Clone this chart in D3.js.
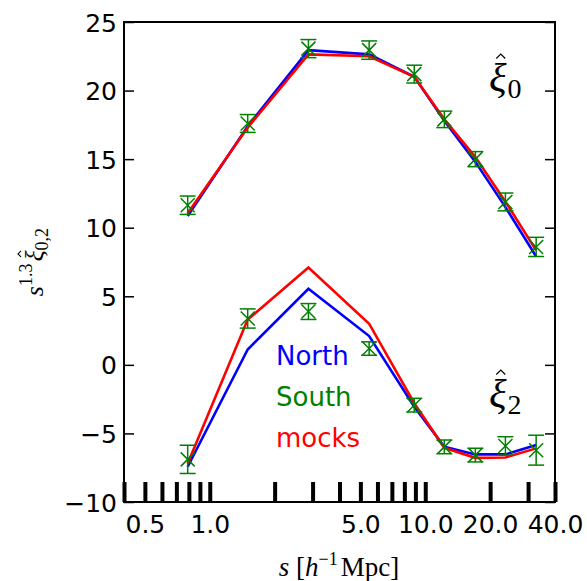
<!DOCTYPE html>
<html>
<head>
<meta charset="utf-8">
<script src="https://cdn.jsdelivr.net/npm/d3@7"></script>
<style>
  body { margin: 0; background: #fff; }
  svg { display: block; }
  .tick text { font-family: "DejaVu Sans", sans-serif; font-size: 25px; fill: #000; }
</style>
</head>
<body>
<svg class="chart" width="587" height="581"></svg>
<script>
// separation bins (h^-1 Mpc)
var sBins = [0.79, 1.50, 2.87, 5.49, 8.89, 12.26, 17.08, 23.55, 32.7];

// monopole, s^1.3 xi_0
var northXi0 = [10.85, 17.4, 22.95, 22.64, 21.0, 17.8, 14.8, 11.5, 7.9];
var mocksXi0 = [11.05, 17.3, 22.64, 22.5, 21.0, 17.9, 15.15, 11.9, 8.35];
var southXi0 = [11.64, 17.6, 23.06, 22.95, 21.2, 17.9, 15.0, 11.88, 8.6];
var southXi0Err = [0.67, 0.65, 0.66, 0.67, 0.65, 0.6, 0.55, 0.65, 0.7];

// quadrupole, s^1.3 xi_2
var northXi2 = [-7.43, 1.12, 5.55, 2.1, -3.06, -5.98, -6.53, -6.53, -5.85];
var mocksXi2 = [-7.19, 3.3, 7.1, 3.0, -2.8, -6.05, -6.78, -6.75, -6.09];
var southXi2 = [-6.89, 3.38, 3.89, 1.19, -2.94, -5.98, -6.58, -5.91, -6.22];
var southXi2Err = [1.03, 0.7, 0.58, 0.49, 0.5, 0.5, 0.5, 0.67, 1.09];

// axis ticks
var xTicks = [0.4, 0.5, 0.6, 0.7, 0.8, 0.9, 1, 2, 3, 4, 5, 6, 7, 8, 9, 10, 20, 30, 40];
var xTickLabels = [0.5, 1, 5, 10, 20, 40];
var yTicks = [-10, -5, 0, 5, 10, 15, 20, 25];

var legendNames = ["North", "South", "mocks"];
var legendColors = ["blue", "green", "red"];

var margin = {top: 22, right: 32, bottom: 79, left: 124};
var svg = d3.select(".chart");
var W = +svg.attr("width"), H = +svg.attr("height");
var w = W - margin.left - margin.right;
var h = H - margin.top - margin.bottom;

var xScale = d3.scaleLog().domain([0.4, 40]).range([0, w]);
var yScale = d3.scaleLinear().domain([-10, 25]).range([h, 0]);

var g = svg.append("g").attr("transform", "translate(" + margin.left + "," + margin.top + ")");

// x axis - thick inward ticks
var xAxis = d3.axisBottom(xScale)
    .tickValues(xTicks)
    .tickSize(-20)
    .tickPadding(13)
    .tickFormat(function(d) { return xTickLabels.indexOf(d) >= 0 ? d3.format(".1f")(d) : ""; });
var gx = g.append("g").attr("transform", "translate(0," + h + ")").call(xAxis);
gx.select(".domain").remove();
gx.selectAll(".tick line").attr("stroke", "#000").attr("stroke-width", 4);

// y axes, left with labels, right mirrored
var gy = g.append("g").call(d3.axisLeft(yScale).tickValues(yTicks).tickSize(-10).tickPadding(7));
gy.select(".domain").remove();
gy.selectAll(".tick line").attr("stroke", "#000").attr("stroke-width", 1.5);
gy.selectAll(".tick text").attr("dy", "0.36em");

var gy2 = g.append("g").attr("transform", "translate(" + w + ",0)")
    .call(d3.axisRight(yScale).tickValues(yTicks).tickSize(-10).tickFormat(""));
gy2.select(".domain").remove();
gy2.selectAll(".tick line").attr("stroke", "#000").attr("stroke-width", 1.5);

// frame
g.append("rect").attr("x", 0).attr("y", 0).attr("width", w).attr("height", h)
    .attr("fill", "none").attr("stroke", "#000").attr("stroke-width", 2);

var line = d3.line()
    .x(function(d) { return xScale(d[0]); })
    .y(function(d) { return yScale(d[1]); });

function drawLine(vals, color) {
    g.append("path")
        .datum(d3.zip(sBins, vals))
        .attr("d", line)
        .attr("fill", "none")
        .attr("stroke", color)
        .attr("stroke-width", 2.6)
        .attr("stroke-linejoin", "miter");
}

drawLine(northXi0, "blue");
drawLine(northXi2, "blue");
drawLine(mocksXi0, "red");
drawLine(mocksXi2, "red");

function drawErr(vals, errs) {
    var data = d3.zip(sBins, vals, errs);
    var eg = g.append("g").attr("stroke", "green").attr("stroke-width", 1.5).attr("fill", "none");
    var pts = eg.selectAll("g").data(data).enter().append("g")
        .attr("transform", function(d) { return "translate(" + xScale(d[0]) + ",0)"; });
    pts.append("line").attr("x1", 0).attr("x2", 0)
        .attr("y1", function(d) { return yScale(d[1] - d[2]); })
        .attr("y2", function(d) { return yScale(d[1] + d[2]); });
    pts.append("line").attr("x1", -8).attr("x2", 8)
        .attr("y1", function(d) { return yScale(d[1] - d[2]); })
        .attr("y2", function(d) { return yScale(d[1] - d[2]); });
    pts.append("line").attr("x1", -8).attr("x2", 8)
        .attr("y1", function(d) { return yScale(d[1] + d[2]); })
        .attr("y2", function(d) { return yScale(d[1] + d[2]); });
    // x marker
    pts.append("path").attr("d", function(d) {
        var cy = yScale(d[1]);
        return "M-7," + (cy - 7) + "L7," + (cy + 7) + "M-7," + (cy + 7) + "L7," + (cy - 7);
    });
}

drawErr(southXi0, southXi0Err);
drawErr(southXi2, southXi2Err);

// legend text
legendNames.forEach(function(name, i) {
    g.append("text")
        .attr("x", 152).attr("y", 343 + i * 41)
        .attr("fill", legendColors[i])
        .style("font-family", "DejaVu Sans")
        .style("font-size", "26px")
        .text(name);
});

var serif = "'Liberation Serif', 'DejaVu Serif', serif";

// small chevron hat over character idx of a text element
function addHat(parent, textSel, idx, baseline, rise, half, tall, shift) {
    var ext = textSel.node().getExtentOfChar(idx);
    var cx = ext.x + ext.width / 2 + shift;
    var top = baseline - rise;
    parent.append("path")
        .attr("d", "M" + (cx - half) + "," + (top + tall) + "L" + cx + "," + top + "L" + (cx + half) + "," + (top + tall))
        .attr("fill", "none").attr("stroke", "#000").attr("stroke-width", 1.1);
}

// xi_0 and xi_2 labels
[["0", 91], ["2", 407]].forEach(function(p) {
    var t = svg.append("text").attr("x", 489).attr("y", p[1])
        .style("font-family", serif).style("font-size", "41px");
    t.append("tspan").style("font-style", "italic").text("ξ");
    t.append("tspan").attr("dy", 7).attr("dx", 1).style("font-size", "28px").text(p[0]);
    addHat(svg, t, 0, p[1], 37, 4.5, 4.5, 3);
});

// y label
var yl = svg.append("g").attr("transform", "translate(43,262) rotate(-90)");
var ylt = yl.append("text").attr("x", 0).attr("y", 0).attr("text-anchor", "middle")
    .style("font-family", serif).style("font-size", "26px");
ylt.append("tspan").style("font-style", "italic").text("s");
ylt.append("tspan").attr("dy", -11).style("font-size", "18px").text("1.3");
ylt.append("tspan").attr("dy", 11).attr("dx", 2).style("font-style", "italic").text("ξ");
ylt.append("tspan").attr("dy", 5).style("font-size", "18px").text("0,2");
addHat(yl, ylt, 4, 0, 25, 3, 3, 2);

// x label
var xl = svg.append("text").attr("x", 339).attr("y", 576).attr("text-anchor", "middle")
    .style("font-family", serif).style("font-size", "27px");
xl.append("tspan").style("font-style", "italic").text("s");
xl.append("tspan").text(" [");
xl.append("tspan").style("font-style", "italic").text("h");
xl.append("tspan").attr("dy", -11).style("font-size", "18px").text("\u22121");
xl.append("tspan").attr("dy", 11).attr("dx", 3).text("Mpc]");
</script>
</body>
</html>
